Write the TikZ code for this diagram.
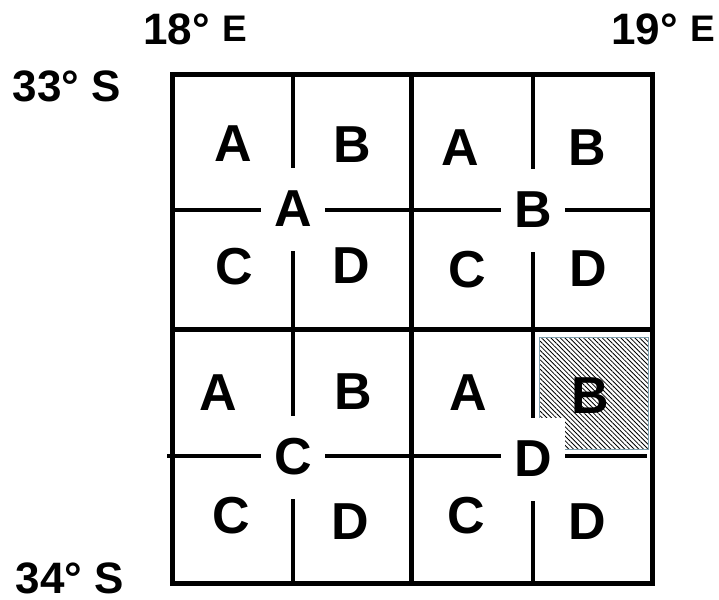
\documentclass[tikz,border=0pt]{standalone}
\usepackage{fontspec}
\setmainfont{Liberation Sans}
\usetikzlibrary{patterns.meta}
\begin{document}
\begin{tikzpicture}[x=1pt, y=-1pt,
  every node/.style={font=\bfseries\fontsize{52}{52}\selectfont, inner sep=0pt},
  deg/.style={anchor=base, font=\bfseries\fontsize{44}{44}\selectfont},
  sub/.style={fill=white, minimum width=64pt, minimum height=83pt},
  thinline/.style={line width=3.2pt},
  thickline/.style={line width=5pt}]
\useasboundingbox (0,0) rectangle (719,599);
\draw[thinline] (293,75) -- (293,583);
\draw[thinline] (533,75) -- (533,583);
\draw[thinline] (172,210) -- (652,210);
\draw[thinline] (167,456) -- (647,456);
\draw[draw=gray!70!cyan, line width=0.8pt, fill=white, pattern={Lines[angle=-45, distance=3.3pt, line width=0.8pt]}] (539,337) rectangle (648,449);
\node[sub] (qa) at (293,209) {A};
\node[sub] (qb) at (533,210) {B};
\node[sub] (qc) at (293,457) {C};
\node[sub] (qd) at (533,459) {D};
\draw[thickline] (172,75) rectangle (652,583);
\draw[thickline] (411,75) -- (411,583);
\draw[thickline] (172,329) -- (652,329);
\node (aa) at (233,144) {A};
\node (ab) at (352,145) {B};
\node (ac) at (234,267) {C};
\node (ad) at (351,266) {D};
\node (ba) at (460,148) {A};
\node (bb) at (587,148) {B};
\node (bc) at (467,270) {C};
\node (bd) at (588,269) {D};
\node (ca) at (218,393) {A};
\node (cb) at (353,392) {B};
\node (cc) at (231,516) {C};
\node (cd) at (350,522) {D};
\node (da) at (468,393) {A};
\node (db) at (590,396) {B};
\node (dc) at (466,516) {C};
\node (dd) at (587,522) {D};
\node[deg] (e18) at (195,45) {18° \raisebox{3pt}{\fontsize{37}{37}\selectfont E}};
\node[deg] (e19) at (663,45) {19° \raisebox{3pt}{\fontsize{37}{37}\selectfont E}};
\node[deg] (s33) at (67,102) {33° S};
\node[deg] (s34) at (70,593) {34° S};
\end{tikzpicture}
\end{document}
